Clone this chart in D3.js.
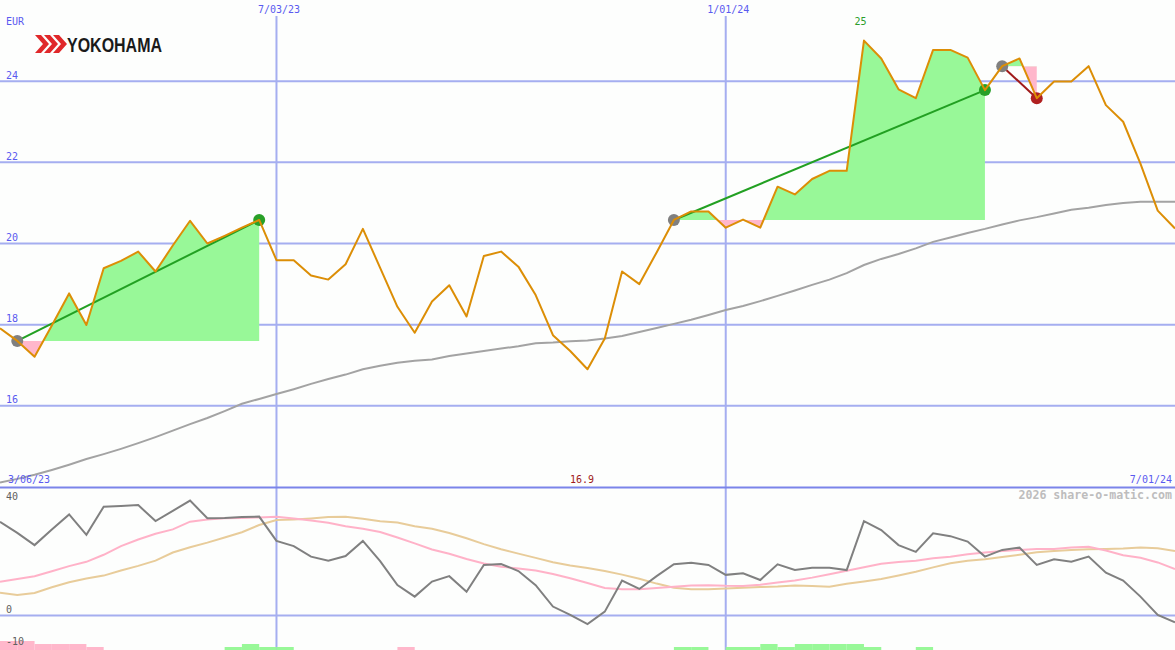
<!DOCTYPE html>
<html><head><meta charset="utf-8">
<script src="https://cdn.jsdelivr.net/npm/d3@7"></script>
<style>html,body{margin:0;padding:0;background:#fdfefd;} svg{display:block;}</style>
</head><body><svg id="c" width="1175" height="650"></svg>
<script>
// ---- data (weekly) ----
const price = [17.91,17.6,17.21,17.98,18.77,17.99,19.39,19.57,19.8,19.31,
  19.95,20.56,20.0,20.19,20.39,20.58,19.59,19.59,19.21,19.11,
  19.49,20.36,19.4,18.44,17.8,18.57,18.97,18.2,19.69,19.8,
  19.43,18.73,17.74,17.35,16.9,17.66,19.31,19.0,19.78,20.58,
  20.79,20.79,20.39,20.59,20.39,21.4,21.21,21.59,21.79,21.79,
  25.0,24.56,23.8,23.58,24.77,24.77,24.58,23.78,24.37,24.56,
  23.58,23.99,23.99,24.37,23.41,23.0,21.97,20.81,20.37];
const avgLong = [14.11,14.20,14.30,14.42,14.55,14.69,14.81,14.94,15.08,15.23,
  15.39,15.55,15.70,15.87,16.05,16.17,16.29,16.41,16.54,16.66,
  16.77,16.90,16.99,17.06,17.11,17.14,17.23,17.29,17.35,17.41,
  17.47,17.54,17.56,17.59,17.61,17.66,17.72,17.82,17.92,18.02,
  18.12,18.24,18.36,18.46,18.58,18.71,18.84,18.98,19.11,19.27,
  19.47,19.62,19.74,19.88,20.04,20.15,20.26,20.36,20.47,20.57,
  20.65,20.74,20.83,20.88,20.95,21.00,21.03,21.03,21.03];
const oscMain = [29.3,25.8,22.0,26.9,31.6,25.2,34.0,34.2,34.5,29.5,
  32.7,35.9,30.4,30.5,30.8,30.9,23.3,21.7,18.4,17.1,
  18.6,23.3,17.0,9.5,5.9,10.6,12.3,7.4,15.8,16.1,
  13.9,9.5,2.8,0.2,-2.7,1.2,10.9,8.3,12.3,16.0,
  16.5,15.8,12.7,13.2,11.1,16.0,14.2,14.9,14.9,14.2,
  29.5,26.7,22.0,19.9,25.7,24.8,23.1,18.4,20.5,21.2,
  15.8,17.6,16.8,18.4,13.4,10.9,5.9,0.2,-2.1];
const oscFast = [10.56,11.38,12.25,13.84,15.44,16.78,18.97,21.66,23.75,25.56,
  26.91,29.31,30.0,30.41,30.5,30.66,30.88,30.28,29.66,29.0,
  27.88,27.09,26.09,24.38,22.53,20.63,19.28,17.66,16.28,15.22,
  14.72,14.06,12.97,11.66,10.16,8.59,8.19,8.19,8.59,8.97,
  9.34,9.47,9.28,9.22,9.59,10.28,10.91,11.84,12.91,14.0,
  15.09,16.16,16.75,17.13,17.88,18.38,19.13,19.66,20.19,20.5,
  20.78,20.81,21.25,21.5,20.31,18.84,18.06,16.59,14.53];
const oscSlow = [7.13,6.41,7.06,8.84,10.38,11.56,12.47,14.06,15.5,17.13,
  19.69,21.31,22.78,24.38,26.03,28.28,29.84,30.0,30.34,30.78,
  30.88,30.22,29.47,29.03,27.88,27.09,25.78,24.13,22.31,20.69,
  19.34,18.0,16.66,15.63,14.84,13.91,12.78,11.47,9.97,8.69,
  8.19,8.19,8.44,8.66,8.91,9.06,9.38,9.22,9.0,9.91,
  10.66,11.44,12.53,13.66,15.03,16.31,17.13,17.59,18.25,19.0,
  19.75,20.19,20.5,20.69,20.81,20.94,21.25,21.03,20.16];
const signalBars = [-3,-3,-2,-2,-2,-1,0,0,0,0, 0,0,0,1,2,1,1,0,0,0,
  0,0,0,-1,0,0,0,0,0,0, 0,0,0,0,0,0,0,0,0,1,
  1,0,1,1,2,1,2,2,2,2, 1,0,0,1,0,0,0,0,0,0, 0,0,0,0,0,0,0,0,0];
const tradeEntry = [1, 39, 58];
const tradeExit = [15, 57, 60];
const yTicks = [16, 18, 20, 22, 24];
const oscTickVals = [40, 0, -10];
const oscGridVals = [0];
const xTickIdx = [16, 42];
const xTickLabels = ["7/03/23", "1/01/24"];
const rangeLabels = ["3/06/23", "7/01/24"];
const currency = "EUR";
const brand = "YOKOHAMA";
const credit = "2026 share-o-matic.com";

// ---- layout ----
const W = 1175, H = 650;
const svg = d3.select("#c");
const x = d3.scaleLinear().domain([0, price.length - 1]).range([0, W]);
const y = d3.scaleLinear().domain([14, 26]).range([487, 0]);
const yo = d3.scaleLinear().domain([-10, 40]).range([647.5, 487.5]);
const barH = d3.scaleLinear().domain([0, 3]).range([0, 9]);
const mono = "'DejaVu Sans Mono', monospace";
const gridC = "#a5aef0", blueT = "#5a5af0";

svg.append("rect").attr("width", W).attr("height", H).attr("fill", "#fdfefd");

// horizontal grid top
svg.append("g").selectAll("line").data(yTicks).join("line")
  .attr("x1", 0).attr("x2", W).attr("y1", d => y(d)).attr("y2", d => y(d))
  .attr("stroke", gridC).attr("stroke-width", 2);
// lower grid
svg.append("g").selectAll("line").data(oscGridVals).join("line")
  .attr("x1", 0).attr("x2", W).attr("y1", d => yo(d)).attr("y2", d => yo(d))
  .attr("stroke", gridC).attr("stroke-width", 2);
// vertical grid
svg.append("g").selectAll("line").data(xTickIdx).join("line")
  .attr("x1", d => x(d)).attr("x2", d => x(d)).attr("y1", 16).attr("y2", H)
  .attr("stroke", gridC).attr("stroke-width", 2);

// trade fills
const defs = svg.append("defs");
tradeEntry.forEach((e, k) => {
  const xe = tradeExit[k];
  const base = price[e];
  const idx = d3.range(e, xe + 1);
  const area = d3.area().x(i => x(i)).y0(y(base)).y1(i => y(price[i]));
  defs.append("clipPath").attr("id", "up" + k).append("rect")
    .attr("x", 0).attr("y", 0).attr("width", W).attr("height", y(base));
  defs.append("clipPath").attr("id", "dn" + k).append("rect")
    .attr("x", 0).attr("y", y(base)).attr("width", W).attr("height", H - y(base));
  svg.append("path").datum(idx).attr("d", area).attr("fill", "#98f898").attr("clip-path", `url(#up${k})`);
  svg.append("path").datum(idx).attr("d", area).attr("fill", "#ffb7cb").attr("clip-path", `url(#dn${k})`);
});

// separator between panels
svg.append("line").attr("x1", 0).attr("x2", W).attr("y1", yo(40)).attr("y2", yo(40))
  .attr("stroke", "#7b84ea").attr("stroke-width", 2);

// long average
const lineTop = d3.line().x((d, i) => x(i)).y(d => y(d));
svg.append("path").datum(avgLong).attr("d", lineTop).attr("fill", "none")
  .attr("stroke", "#a3a3a3").attr("stroke-width", 2);

// trade lines and dots
tradeEntry.forEach((e, k) => {
  const xe = tradeExit[k];
  const win = price[xe] >= price[e];
  svg.append("line").attr("x1", x(e)).attr("y1", y(price[e])).attr("x2", x(xe)).attr("y2", y(price[xe]))
    .attr("stroke", win ? "#22a022" : "#a01a1a").attr("stroke-width", 2);
  svg.append("circle").attr("cx", x(e)).attr("cy", y(price[e])).attr("r", 6).attr("fill", "#808080");
  svg.append("circle").attr("cx", x(xe)).attr("cy", y(price[xe])).attr("r", 6).attr("fill", win ? "#28a028" : "#b02020");
});

// price line
svg.append("path").datum(price).attr("d", lineTop).attr("fill", "none")
  .attr("stroke", "#dc8e06").attr("stroke-width", 2).attr("stroke-linejoin", "round");

// lower panel lines
const lineLow = d3.line().x((d, i) => x(i)).y(d => yo(d));
svg.append("path").datum(oscSlow).attr("d", lineLow).attr("fill", "none").attr("stroke", "#e8cc9a").attr("stroke-width", 2);
svg.append("path").datum(oscFast).attr("d", lineLow).attr("fill", "none").attr("stroke", "#ffb2c8").attr("stroke-width", 2);
svg.append("path").datum(oscMain).attr("d", lineLow).attr("fill", "none").attr("stroke", "#808080").attr("stroke-width", 2);

// signal bars
svg.append("g").selectAll("rect").data(signalBars.map((v, i) => ({v, i})).filter(d => d.v !== 0)).join("rect")
  .attr("x", d => x(d.i)).attr("width", d => x(d.i + 1) - x(d.i))
  .attr("y", d => H - barH(Math.abs(d.v))).attr("height", d => barH(Math.abs(d.v)))
  .attr("fill", d => d.v > 0 ? "#98f898" : "#ffb7cb");

// ---- text ----
const txt = (s, xx, yy, opt = {}) => svg.append("text").text(s).attr("x", xx).attr("y", yy)
  .attr("font-family", opt.font || mono).attr("font-size", opt.size || 10)
  .attr("font-weight", opt.weight || "normal")
  .attr("fill", opt.color || blueT).attr("text-anchor", opt.anchor || "start");

txt(currency, 6, 25);
yTicks.forEach(v => txt(String(v), 6, y(v) - 2.5));
xTickIdx.forEach((d, k) => txt(xTickLabels[k], x(d) + 2.5, 12.5, {anchor: "middle"}));
txt(rangeLabels[0], 8, 482.7);
txt(rangeLabels[1], 1172, 482.7, {anchor: "end"});
oscTickVals.forEach(v => txt(String(v), 6, v === 40 ? 500 : yo(v) - 2.5, {color: "#606060"}));
txt(credit, 1172, 499, {size: 11.6, weight: "bold", color: "#bdbdbd", anchor: "end"});

const iMax = d3.maxIndex(price), iMin = d3.minIndex(price);
txt(String(+price[iMax].toFixed(1)), x(iMax) - 3.5, 25, {anchor: "middle", color: "#2a9d2a"});
txt(String(+price[iMin].toFixed(1)), x(iMin) - 5.5, 483, {anchor: "middle", color: "#a01a1a"});

// logo
const logo = svg.append("g");
[0, 1, 2].forEach(k => {
  const x0 = 35 + k * 9;
  logo.append("polygon")
    .attr("points", [[x0, 35], [x0 + 6, 35], [x0 + 14, 44], [x0 + 6, 53], [x0, 53], [x0 + 8, 44]].join(" "))
    .attr("fill", "#e0282a");
});
logo.append("text").text(brand).attr("x", 67).attr("y", 51.5)
  .attr("font-family", "'Liberation Sans', Arial, sans-serif").attr("font-size", 20.5)
  .attr("font-weight", "bold").attr("fill", "#1a1a1a")
  .attr("textLength", 95).attr("lengthAdjust", "spacingAndGlyphs");
</script></body></html>
